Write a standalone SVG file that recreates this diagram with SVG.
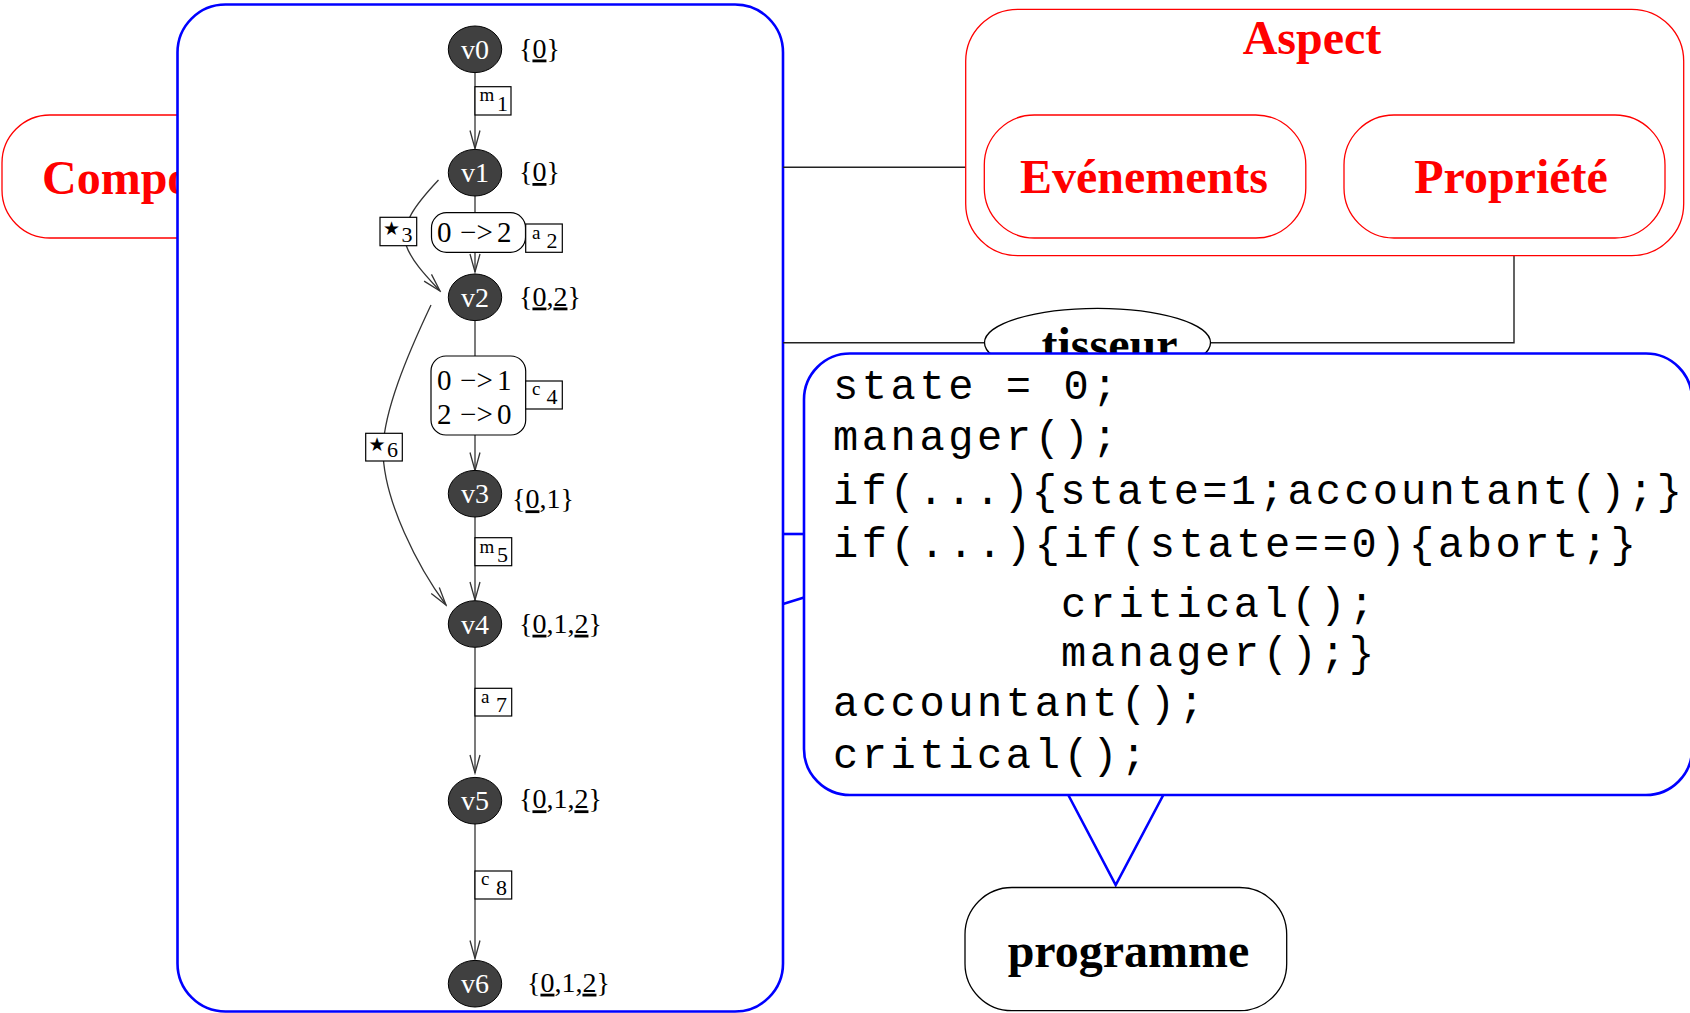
<svg xmlns="http://www.w3.org/2000/svg" width="1690" height="1013" viewBox="0 0 1690 1013">
  <defs>
    <style>
      .redbox { fill: #ffffff; stroke: #ff0000; stroke-width: 1.3; }
      .bluebox { fill: #ffffff; stroke: #0000ff; stroke-width: 2.6; }
      .blackbox { fill: #ffffff; stroke: #000000; stroke-width: 1.3; }
      .bluelink { fill: none; stroke: #0000ff; stroke-width: 2.6; }
      .link { fill: none; stroke: #222222; stroke-width: 1.4; }
      .big { font-family: "Liberation Serif", "Times New Roman", serif; font-weight: bold; font-size: 48px; }
      .red { fill: #ff0000; }
      .code { font-family: "Liberation Mono", "Courier New", monospace; font-size: 42px; letter-spacing: 3.6px; fill: #000000; }
      .tight { letter-spacing: 3.2px; }
      .node { fill: #404040; stroke: #000000; stroke-width: 1; }
      .vl { font-family: "Liberation Serif", "Times New Roman", serif; font-size: 28px; fill: #ffffff; text-anchor: middle; }
      .set { font-family: "Liberation Serif", "Times New Roman", serif; font-size: 28px; fill: #000000; }
      .u { text-decoration: underline; }
      .edge { fill: none; stroke: #333333; stroke-width: 1.3; }
      .lab { fill: #ffffff; stroke: #000000; stroke-width: 1.2; }
      .act { fill: #ffffff; stroke: #000000; stroke-width: 1.2; }
      .lt { font-family: "Liberation Serif", "Times New Roman", serif; font-size: 19px; fill: #000000; }
      .ld { font-family: "Liberation Serif", "Times New Roman", serif; font-size: 22px; fill: #000000; }
      .star { font-family: "DejaVu Sans", sans-serif; font-size: 19px; fill: #000000; }
      .at { font-family: "Liberation Serif", "Times New Roman", serif; font-size: 29px; fill: #000000; }
    </style>
    <marker id="vee" viewBox="-20 -7 22 14" markerWidth="22" markerHeight="14" refX="0" refY="0" orient="auto" markerUnits="userSpaceOnUse">
      <path d="M-18,-5 L0,0 L-18,5" fill="none" stroke="#333333" stroke-width="1.3"/>
    </marker>
  </defs>

  <!-- component box, partly covered by the graph panel -->
  <g id="composant">
    <rect class="redbox" x="2" y="115" width="400" height="123" rx="48" ry="48"/>
    <text class="big red" x="42" y="194">Compo</text>
  </g>

  <!-- behaviour graph panel -->
  <g id="graph-panel">
    <rect class="bluebox" x="177.5" y="4.5" width="605.5" height="1007" rx="48" ry="48"/>
  </g>

  <!-- graph edges with their labels -->
  <g id="graph-edges">
    <line class="edge" x1="475" y1="72.7" x2="475" y2="148.5" marker-end="url(#vee)"/>
    <line class="edge" x1="475" y1="196" x2="475" y2="272" marker-end="url(#vee)"/>
    <line class="edge" x1="475" y1="320.7" x2="475" y2="470.5" marker-end="url(#vee)"/>
    <line class="edge" x1="475" y1="516.7" x2="475" y2="600" marker-end="url(#vee)"/>
    <line class="edge" x1="475" y1="647.3" x2="475" y2="773" marker-end="url(#vee)"/>
    <line class="edge" x1="475" y1="824" x2="475" y2="958.5" marker-end="url(#vee)"/>
    <path class="edge" d="M438.5,180 C415,205 400,225 406,245 C412,262 428,278 440,291" marker-end="url(#vee)"/>
    <path class="edge" d="M431,305 C405,360 385,410 383,447 C382,500 420,570 446,605" marker-end="url(#vee)"/>

    <!-- m1 -->
    <rect class="lab" x="475" y="86.7" width="36" height="28.3"/>
    <text class="lt" x="479.5" y="101">m</text>
    <text class="ld" x="497" y="110.5">1</text>

    <!-- state update 0 -> 2 and a2 -->
    <rect class="act" x="431.5" y="212.7" width="94" height="39.6" rx="15" ry="15"/>
    <text class="at" y="242"><tspan x="437">0</tspan><tspan x="460">−</tspan><tspan x="476.5">&gt;</tspan><tspan x="497">2</tspan></text>
    <rect class="lab" x="525.7" y="224" width="36.6" height="28.3"/>
    <text class="lt" x="532" y="238.5">a</text>
    <text class="ld" x="546.5" y="247.5">2</text>

    <!-- star 3 -->
    <rect class="lab" x="380" y="217.3" width="36.7" height="28.4"/>
    <text class="star" x="383" y="235">★</text>
    <text class="ld" x="401.5" y="241.5">3</text>

    <!-- state update 0 -> 1, 2 -> 0 and c4 -->
    <rect class="act" x="431" y="356" width="94.7" height="79" rx="15" ry="15"/>
    <text class="at" y="389.5"><tspan x="437">0</tspan><tspan x="460">−</tspan><tspan x="476.5">&gt;</tspan><tspan x="497">1</tspan></text>
    <text class="at" y="424"><tspan x="437">2</tspan><tspan x="460">−</tspan><tspan x="476.5">&gt;</tspan><tspan x="497">0</tspan></text>
    <rect class="lab" x="525.7" y="381" width="36.6" height="28"/>
    <text class="lt" x="532" y="395">c</text>
    <text class="ld" x="546.5" y="404">4</text>

    <!-- star 6 -->
    <rect class="lab" x="365.7" y="433.3" width="36.6" height="27.7"/>
    <text class="star" x="368.5" y="451">★</text>
    <text class="ld" x="387" y="457">6</text>

    <!-- m5 -->
    <rect class="lab" x="475" y="537.7" width="36.7" height="28"/>
    <text class="lt" x="479.5" y="552.5">m</text>
    <text class="ld" x="497" y="561.5">5</text>

    <!-- a7 -->
    <rect class="lab" x="475" y="688.3" width="36.7" height="27.7"/>
    <text class="lt" x="481" y="702.5">a</text>
    <text class="ld" x="496" y="712">7</text>

    <!-- c8 -->
    <rect class="lab" x="475" y="871" width="36.7" height="28"/>
    <text class="lt" x="481" y="885">c</text>
    <text class="ld" x="496" y="894.5">8</text>
  </g>

  <!-- graph states -->
  <g id="v0">
    <ellipse class="node" cx="475" cy="49.3" rx="26.7" ry="23.3"/>
    <text class="vl" x="475" y="58.5">v0</text>
    <text class="set" x="519" y="57.5">{<tspan class="u">0</tspan>}</text>
  </g>
  <g id="v1">
    <ellipse class="node" cx="475" cy="172.7" rx="26.7" ry="23.3"/>
    <text class="vl" x="475" y="182">v1</text>
    <text class="set" x="519" y="181">{<tspan class="u">0</tspan>}</text>
  </g>
  <g id="v2">
    <ellipse class="node" cx="475" cy="297.3" rx="26.7" ry="23.3"/>
    <text class="vl" x="475" y="306.5">v2</text>
    <text class="set" x="519" y="305.5">{<tspan class="u">0</tspan>,<tspan class="u">2</tspan>}</text>
  </g>
  <g id="v3">
    <ellipse class="node" cx="475" cy="493.7" rx="26.7" ry="23.3"/>
    <text class="vl" x="475" y="503">v3</text>
    <text class="set" x="512" y="508.3">{<tspan class="u">0</tspan>,1}</text>
  </g>
  <g id="v4">
    <ellipse class="node" cx="475" cy="624" rx="26.7" ry="23.3"/>
    <text class="vl" x="475" y="633.5">v4</text>
    <text class="set" x="519" y="632.7">{<tspan class="u">0</tspan>,1,<tspan class="u">2</tspan>}</text>
  </g>
  <g id="v5">
    <ellipse class="node" cx="475" cy="800.7" rx="26.7" ry="23.3"/>
    <text class="vl" x="475" y="810">v5</text>
    <text class="set" x="519" y="808.3">{<tspan class="u">0</tspan>,1,<tspan class="u">2</tspan>}</text>
  </g>
  <g id="v6">
    <ellipse class="node" cx="475" cy="983.7" rx="26.7" ry="23.3"/>
    <text class="vl" x="475" y="993">v6</text>
    <text class="set" x="527" y="991.7">{<tspan class="u">0</tspan>,1,<tspan class="u">2</tspan>}</text>
  </g>

  <!-- links between the panels -->
  <g id="connectors">
    <line class="link" x1="783" y1="167.3" x2="984.3" y2="167.3"/>
    <line class="link" x1="783" y1="342.7" x2="984.5" y2="342.7"/>
    <polyline class="link" points="1514,238 1514,342.7 1210.5,342.7"/>
  </g>

  <!-- aspect with its two parts -->
  <g id="aspect">
    <rect class="redbox" x="965.7" y="9.3" width="718" height="246.4" rx="52" ry="52"/>
    <text class="big red" x="1312" y="54" text-anchor="middle">Aspect</text>
  </g>
  <g id="evenements">
    <rect class="redbox" x="984.3" y="115" width="321.5" height="123" rx="50" ry="50"/>
    <text class="big red" x="1144" y="193" text-anchor="middle">Evénements</text>
  </g>
  <g id="propriete">
    <rect class="redbox" x="1344" y="115" width="321" height="123" rx="50" ry="50"/>
    <text class="big red" x="1511" y="193" text-anchor="middle">Propriété</text>
  </g>

  <!-- weaver -->
  <g id="tisseur">
    <ellipse class="blackbox" cx="1097.5" cy="342.7" rx="113" ry="34.4"/>
    <text class="big" x="1109.5" y="361" text-anchor="middle">tisseur</text>
  </g>

  <!-- woven code -->
  <g id="code">
    <rect class="bluebox" x="804" y="353.5" width="888" height="441.5" rx="46" ry="46"/>
    <line class="bluelink" x1="783" y1="534" x2="804" y2="534"/>
    <line class="bluelink" x1="783" y1="604" x2="804" y2="597.6"/>
    <polyline class="bluelink" points="1068.3,795 1115.7,885 1163.3,795"/>
    <text class="code" x="833" y="399.3">state = 0;</text>
    <text class="code" x="833" y="450">manager();</text>
    <text class="code tight" x="833" y="504">if(...){state=1;accountant();}</text>
    <text class="code" x="833" y="557.3">if(...){if(state==0){abort;}</text>
    <text class="code" x="1061" y="616.7">critical();</text>
    <text class="code" x="1061" y="666">manager();}</text>
    <text class="code" x="833" y="716">accountant();</text>
    <text class="code" x="833" y="768.3">critical();</text>
  </g>

  <!-- resulting program -->
  <g id="programme">
    <rect class="blackbox" x="965" y="887.5" width="321.7" height="123.2" rx="47" ry="47"/>
    <text class="big" x="1128.5" y="966.7" text-anchor="middle">programme</text>
  </g>
</svg>
